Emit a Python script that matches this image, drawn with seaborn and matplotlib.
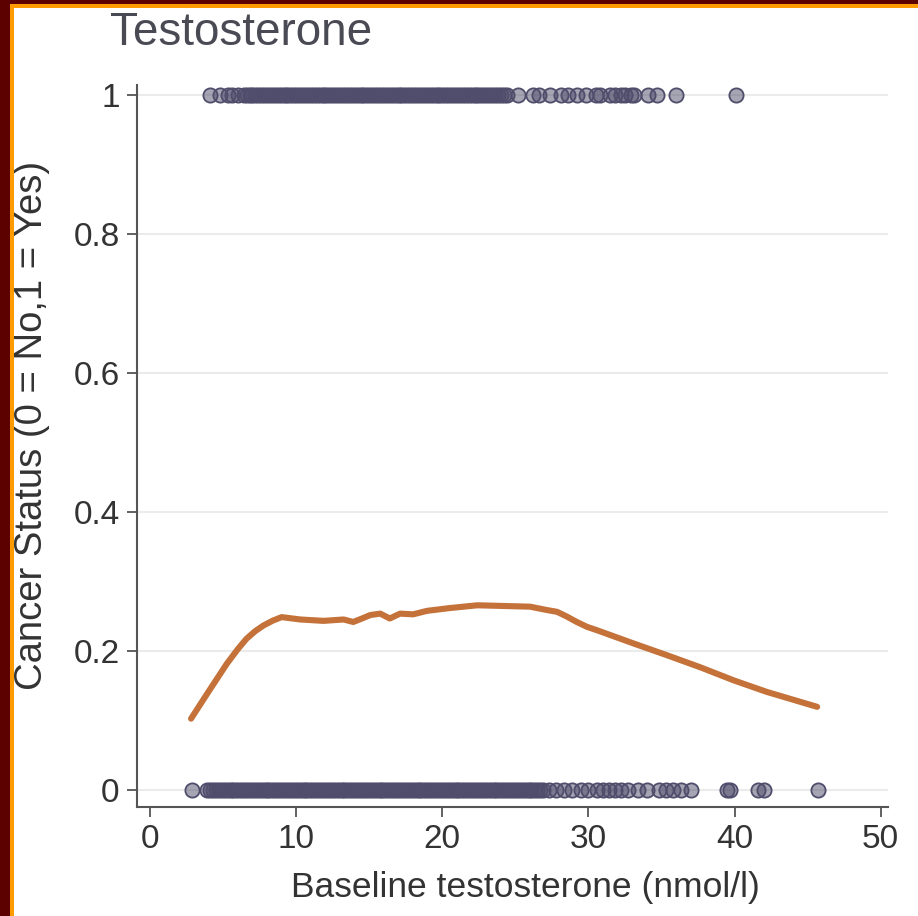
import numpy as np
import pandas as pd
import seaborn as sns
import matplotlib.pyplot as plt
from matplotlib.patches import Rectangle

# ---------------- data ----------------
# Baseline testosterone of men with cancer (status = 1)
x_cancer_yes = [4.1, 4.8, 5.3, 5.6, 6.0,
                6.4, 6.6, 6.8, 7.0, 7.2, 7.4, 7.6, 7.8, 8.0, 8.2, 8.4, 8.6, 8.8,
                9.0, 9.2, 9.4, 9.6, 9.8, 10.0, 10.2, 10.4, 10.6, 10.8, 11.0,
                11.2, 11.4, 11.6, 11.8, 12.0, 12.2, 12.4, 12.6, 12.8, 13.0,
                13.2, 13.4, 13.6, 13.8, 14.0, 14.2, 14.4, 14.6, 14.8, 15.0,
                15.2, 15.4, 15.6, 15.8, 16.0, 16.2, 16.4, 16.6, 16.8, 17.0,
                17.2, 17.4, 17.6, 17.8, 18.0, 18.2, 18.4, 18.6, 18.8, 19.0,
                19.2, 19.4, 19.6, 19.8, 20.0, 20.2, 20.4, 20.6, 20.8, 21.0,
                21.2, 21.4, 21.6, 21.8, 22.0, 22.2, 22.4, 22.6, 22.8, 23.0,
                23.2, 23.4, 23.6, 23.8, 24.0, 24.2,
                24.45, 25.2, 26.2, 26.6, 27.4, 28.1, 28.6, 29.2, 29.8, 30.5,
                30.8, 31.5, 31.8, 32.2, 32.5, 32.9, 33.1, 34.1, 34.7, 36.0, 40.1]
# Baseline testosterone of men without cancer (status = 0)
x_cancer_no = [2.85,
               3.9, 4.1, 4.3, 4.5, 4.7, 4.9, 5.1, 5.3, 5.5, 5.7, 5.9, 6.1, 6.3,
               6.5, 6.7, 6.9, 7.1, 7.3, 7.5, 7.7, 7.9, 8.1, 8.3, 8.5, 8.7, 8.9,
               9.1, 9.3, 9.5, 9.7, 9.9, 10.1, 10.3, 10.5, 10.7, 10.9, 11.1,
               11.3, 11.5, 11.7, 11.9, 12.1, 12.3, 12.5, 12.7, 12.9, 13.1,
               13.3, 13.5, 13.7, 13.9, 14.1, 14.3, 14.5, 14.7, 14.9, 15.1,
               15.3, 15.5, 15.7, 15.9, 16.1, 16.3, 16.5, 16.7, 16.9, 17.1,
               17.3, 17.5, 17.7, 17.9, 18.1, 18.3, 18.5, 18.7, 18.9, 19.1,
               19.3, 19.5, 19.7, 19.9, 20.1, 20.3, 20.5, 20.7, 20.9, 21.1,
               21.3, 21.5, 21.7, 21.9, 22.1, 22.3, 22.5, 22.7, 22.9, 23.1,
               23.3, 23.5, 23.7, 23.9, 24.1, 24.3, 24.5, 24.7, 24.9, 25.1,
               25.3, 25.5, 25.7, 25.9, 26.1, 26.3, 26.5, 26.7, 26.9,
               27.3, 27.8, 28.3, 28.9, 29.5, 30.0, 30.6, 31.0, 31.4, 31.8,
               32.2, 32.7, 33.4, 34.0, 34.8, 35.3, 35.8, 36.3, 37.0, 39.5,
               39.7, 41.6, 42.0, 45.7]
# Smoothed (lowess) curve
smooth_x = [2.8, 4.0, 5.25, 6.0, 6.6, 7.2, 7.76, 8.4, 9.0, 10.27, 11.87, 13.24,
            13.9, 14.5, 15.07, 15.75, 16.4, 17.1, 18.0, 18.95, 20.5, 22.4, 24.2,
            26.0, 27.2, 27.85, 28.5, 29.2, 29.9, 30.6, 33.1, 35.4, 37.7, 39.95,
            42.2, 45.65]
smooth_y = [0.103, 0.142, 0.182, 0.203, 0.218, 0.229, 0.237, 0.244, 0.249,
            0.2456, 0.2436, 0.2456, 0.242, 0.247, 0.252, 0.254, 0.247, 0.254,
            0.253, 0.258, 0.262, 0.266, 0.265, 0.264, 0.259, 0.2566, 0.250,
            0.242, 0.235, 0.230, 0.211, 0.194, 0.1765, 0.158, 0.1415, 0.120]

x_ticks = [0, 10, 20, 30, 40, 50]
y_ticks = [0, 0.2, 0.4, 0.6, 0.8, 1]
y_tick_labels = ["0", "0.2", "0.4", "0.6", "0.8", "1"]

title = "Testosterone"
x_label = "Baseline testosterone (nmol/l)"
y_label = "Cancer Status (0 = No,1 = Yes)"

# ---------------- style ----------------
sns.set_theme(style="white")
plt.rcParams['font.family'] = ['Liberation Sans', 'DejaVu Sans']

W, H = 918, 916
fig = plt.figure(figsize=(W / 100, H / 100), dpi=100)
fig.patch.set_facecolor("white")

# frame decoration (dark red + orange border on top and left)
fig.patches.append(Rectangle((0, 0), 10 / W, 1, transform=fig.transFigure,
                             facecolor="#5c0000", edgecolor="none", zorder=0))
fig.patches.append(Rectangle((10 / W, 0), 4 / W, 1 - 4 / H, transform=fig.transFigure,
                             facecolor="#ff9a00", edgecolor="none", zorder=0))
fig.patches.append(Rectangle((0, 1 - 4 / H), 1, 4 / H, transform=fig.transFigure,
                             facecolor="#5c0000", edgecolor="none", zorder=0))
fig.patches.append(Rectangle((10 / W, 1 - 8 / H), 1, 4 / H, transform=fig.transFigure,
                             facecolor="#ff9a00", edgecolor="none", zorder=0))

ax = fig.add_axes([137 / W, 1 - 807 / H, (888 - 137) / W, (807 - 85) / H])
ax.set_facecolor("white")

df_pts = pd.DataFrame({
    "x": x_cancer_no + x_cancer_yes,
    "y": [0] * len(x_cancer_no) + [1] * len(x_cancer_yes),
})
sns.scatterplot(data=df_pts, x="x", y="y", s=105, color="#4f4d6b",
                edgecolor="#4f4d6b", linewidth=1.3, ax=ax, legend=False, zorder=3)
pts = ax.collections[-1]
pts.set_facecolor((0.31, 0.30, 0.42, 0.5))
pts.set_edgecolor("#4f4d6b")

df_line = pd.DataFrame({"x": smooth_x, "y": smooth_y})
sns.lineplot(data=df_line, x="x", y="y", color="#c4713a", linewidth=4.4,
             ax=ax, zorder=4)
ax.lines[-1].set_solid_capstyle("round")
ax.lines[-1].set_solid_joinstyle("round")

ax.set_xlim(-0.9, 50.5)
ax.set_ylim(-0.024, 1.014)
ax.set_xticks(x_ticks)
ax.set_yticks(y_ticks)
ax.set_yticklabels(y_tick_labels)

for yv in y_ticks:
    ax.axhline(yv, color="#ebebeb", linewidth=1.5, zorder=1)

for side in ["top", "right"]:
    ax.spines[side].set_visible(False)
for side in ["left", "bottom"]:
    ax.spines[side].set_color("#555555")
    ax.spines[side].set_linewidth(1.5)

ax.tick_params(axis="both", direction="out", length=7.5, width=1.3,
               color="#555555", labelsize=24, labelcolor="#333333", pad=5)
ax.tick_params(left=True, bottom=True)

ax.set_xlabel(x_label, fontsize=25.5, color="#333333")
ax.set_ylabel(y_label, fontsize=27.5, color="#333333")
ax.xaxis.set_label_coords((525 - 137) / 751, (807 - 888) / 722)
ax.yaxis.set_label_coords((32 - 137) / 751, (807 - 425) / 722)
ax.xaxis.label.set_va("center")
ax.yaxis.label.set_va("center")

fig.text(110 / W, 1 - 33 / H, title, fontsize=33, color="#4a4a55",
         ha="left", va="center")

fig.savefig("out.png", dpi=100, facecolor="white")
